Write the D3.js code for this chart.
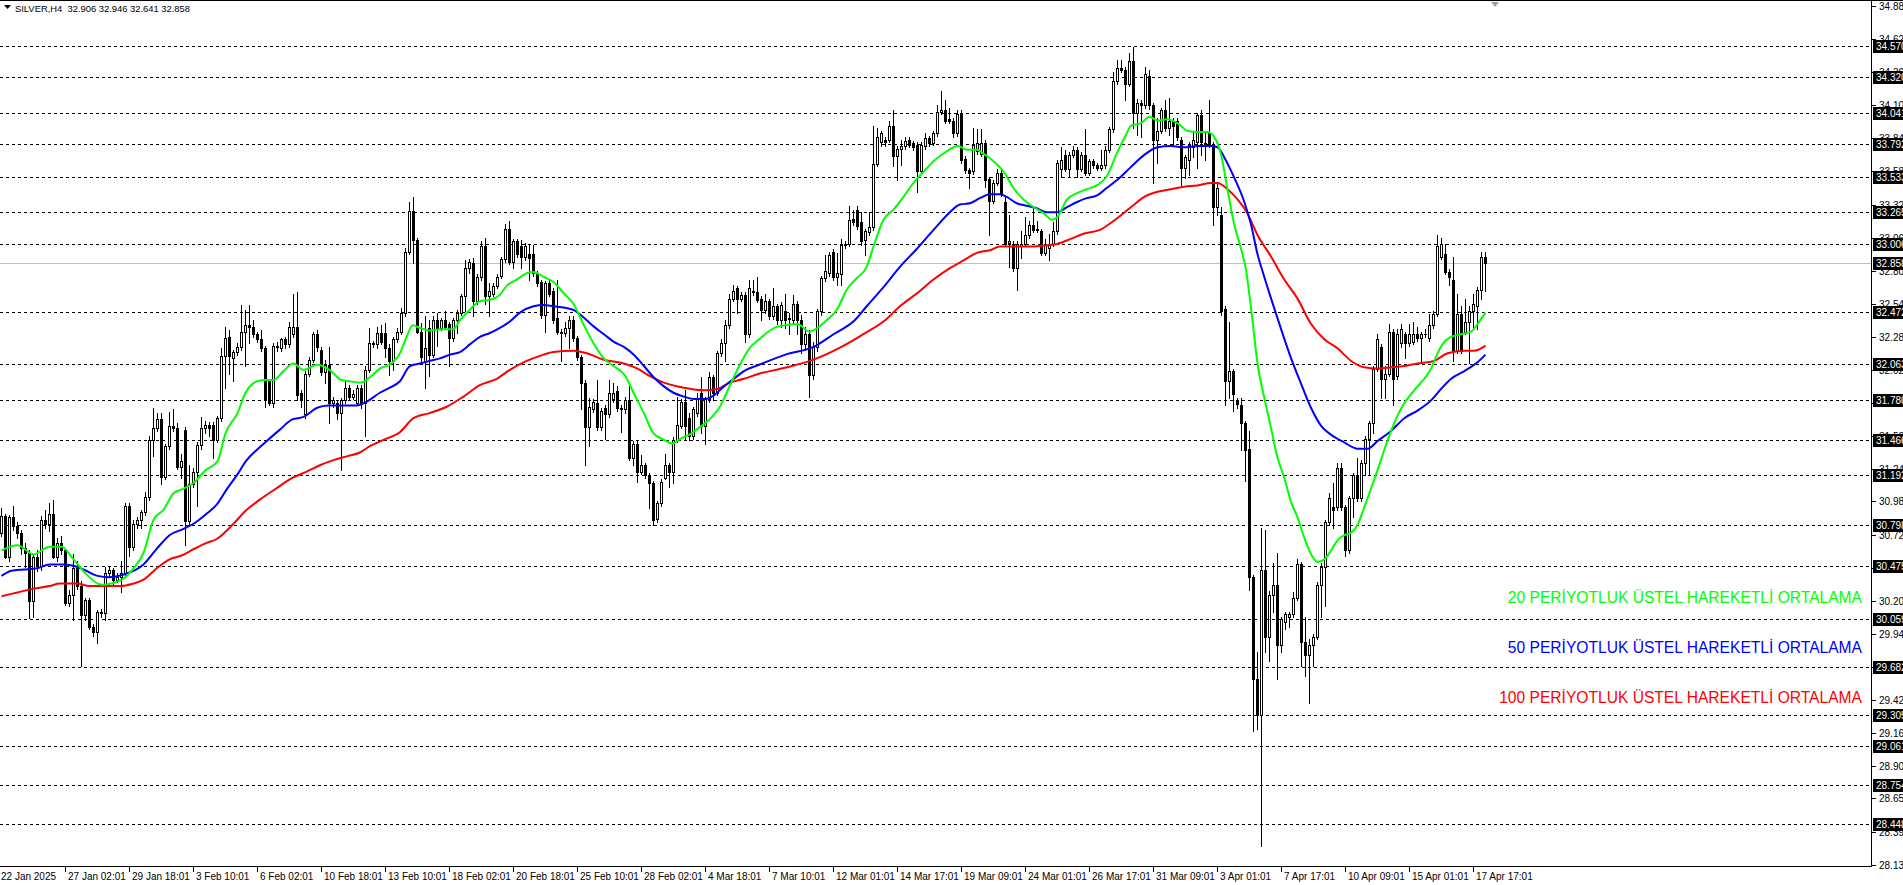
<!DOCTYPE html>
<html><head><meta charset="utf-8">
<script src="https://cdn.jsdelivr.net/npm/d3@7"></script>
<style>html,body{margin:0;padding:0;background:#fff;overflow:hidden}</style>
</head><body>
<svg id="chart" width="1903" height="885"></svg>
<script>
// ---------- DATA ----------
const opens = [30.74,30.87,30.55,30.86,30.79,30.74,30.62,30.58,30.20,30.55,30.48,30.84,30.81,30.89,30.55,30.66,30.60,30.19,30.25,30.46,30.32,30.09,30.21,30.00,29.96,30.12,30.11,30.42,30.45,30.37,30.39,30.42,30.95,30.63,30.81,30.84,30.90,31.02,31.47,31.56,31.63,31.18,31.42,31.58,31.56,31.26,31.55,30.83,31.12,31.22,31.43,31.56,31.59,31.59,31.47,31.64,32.13,32.28,32.11,32.16,32.20,32.32,32.37,32.36,32.30,32.26,32.19,31.94,31.76,32.21,32.19,32.26,32.22,32.30,32.36,31.84,31.67,31.99,32.10,32.30,32.18,32.00,32.06,31.76,31.76,31.68,31.78,31.88,31.81,31.76,31.88,31.76,32.02,32.23,32.22,32.31,32.31,32.19,32.09,32.26,32.32,32.47,32.95,33.27,33.04,32.32,32.09,32.35,32.14,32.41,32.35,32.41,32.38,32.27,32.41,32.47,32.60,32.82,32.86,32.56,32.75,32.99,32.60,32.62,32.68,32.76,32.89,33.13,32.87,33.03,32.99,32.91,32.93,32.93,32.78,32.71,32.45,32.70,32.64,32.43,32.32,32.31,32.35,32.41,32.27,32.12,31.92,31.57,31.71,31.76,31.57,31.72,31.67,31.79,31.85,31.72,31.71,31.78,31.33,31.44,31.22,31.27,31.19,31.13,30.85,30.97,31.17,31.27,31.22,31.47,31.58,31.77,31.64,31.50,31.68,31.84,31.58,31.79,31.96,31.84,32.15,32.23,32.37,32.58,32.66,32.58,32.61,32.30,32.64,32.63,32.58,32.49,32.56,32.44,32.52,32.41,32.48,32.42,32.41,32.54,32.41,32.22,32.30,31.98,32.20,32.48,32.74,32.78,32.95,32.75,32.77,33.00,33.01,33.21,33.28,33.18,33.04,33.10,33.14,33.64,33.81,33.83,33.83,33.94,33.70,33.76,33.78,33.83,33.80,33.79,33.58,33.78,33.84,33.80,33.88,34.05,34.06,33.99,33.98,33.88,34.03,33.68,33.59,33.58,33.74,33.72,33.80,33.52,33.35,33.49,33.57,33.34,33.02,33.01,32.82,32.99,33.01,33.08,33.16,33.13,33.11,32.94,32.98,33.01,33.11,33.60,33.71,33.60,33.71,33.75,33.60,33.71,33.57,33.66,33.63,33.61,33.63,33.75,33.91,34.29,34.39,34.38,34.27,34.45,34.04,34.12,34.10,34.33,34.10,33.83,33.90,34.06,33.92,33.98,33.98,33.83,33.61,33.67,33.77,33.81,34.02,33.80,33.88,33.79,33.30,33.24,32.50,31.93,32.01,31.78,31.74,31.60,31.40,30.39,29.59,29.31,30.45,29.92,30.25,30.33,29.86,30.04,30.08,30.10,30.23,30.49,29.88,29.78,29.86,29.92,30.33,30.47,30.82,30.94,30.94,31.25,30.94,30.60,31.01,31.19,31.01,31.29,31.48,31.60,32.03,32.20,31.95,31.99,32.32,31.97,32.23,32.30,32.23,32.24,32.30,32.27,32.30,32.27,32.37,32.46,32.91,32.93,32.79,32.73,32.17,32.46,32.32,32.40,32.48,32.52,32.65,32.906];
const highs = [30.93,30.89,30.88,30.95,30.82,30.76,30.66,30.60,30.57,30.60,30.87,30.92,30.97,31.00,30.70,30.71,30.61,30.29,30.57,30.52,30.36,30.23,30.23,30.02,30.13,30.14,30.47,30.48,30.46,30.42,30.52,30.97,30.97,30.84,30.86,30.92,31.06,31.50,31.72,31.68,31.68,31.44,31.69,31.71,31.60,31.36,31.57,31.27,31.25,31.45,31.65,31.62,31.61,31.61,31.66,32.19,32.36,32.33,32.18,32.23,32.53,32.49,32.53,32.41,32.32,32.33,32.21,31.95,32.23,32.24,32.27,32.28,32.40,32.62,32.63,31.86,32.01,32.12,32.32,32.33,32.20,32.10,32.20,31.81,31.78,31.80,31.93,31.90,31.86,31.90,31.90,32.05,32.35,32.25,32.36,32.37,32.39,32.22,32.28,32.35,32.51,32.98,33.34,33.38,33.06,32.39,32.44,32.41,32.44,32.47,32.43,32.48,32.40,32.43,32.49,32.62,32.88,32.89,32.90,32.77,33.03,33.06,32.70,32.70,32.77,32.91,33.17,33.19,33.05,33.05,33.04,33.02,33.00,33.00,32.80,32.73,32.72,32.73,32.66,32.73,32.34,32.40,32.44,32.44,32.29,32.14,31.94,31.80,31.79,31.94,31.72,31.74,31.94,31.92,31.89,31.74,31.81,31.89,31.46,31.46,31.35,31.29,31.21,31.15,30.99,31.16,31.36,31.29,31.49,31.81,31.79,31.86,31.68,31.73,31.84,31.96,31.81,32.00,31.98,32.17,32.26,32.41,32.62,32.69,32.68,32.63,32.63,32.73,32.73,32.75,32.60,32.62,32.58,32.66,32.54,32.55,32.62,32.47,32.61,32.56,32.45,32.36,32.33,32.24,32.50,32.76,32.92,32.95,32.97,32.94,33.05,33.03,33.31,33.28,33.31,33.26,33.13,33.26,33.94,33.92,33.90,33.85,33.98,34.06,33.78,33.83,33.85,33.85,33.82,33.81,33.81,33.88,33.86,33.90,34.10,34.21,34.14,34.08,34.00,34.06,34.06,33.70,33.61,33.92,33.91,33.91,33.83,33.54,33.51,33.60,33.59,33.38,33.24,33.03,33.03,33.11,33.22,33.19,33.30,33.19,33.13,33.05,33.09,33.18,33.67,33.77,33.75,33.73,33.78,33.77,33.73,33.91,33.68,33.68,33.65,33.75,33.78,33.93,34.36,34.46,34.46,34.40,34.51,34.56,34.15,34.14,34.40,34.38,34.12,34.00,34.08,34.14,34.16,34.00,34.00,33.85,33.71,33.81,33.90,34.04,34.06,33.89,34.14,33.81,33.50,33.30,32.52,32.40,32.03,31.80,31.80,31.62,31.54,30.41,29.80,30.78,30.76,30.28,30.50,30.58,30.08,30.12,30.12,30.27,30.53,30.51,30.08,29.90,29.94,30.35,30.50,30.84,31.05,31.13,31.29,31.29,30.96,31.03,31.21,31.33,31.31,31.50,31.62,32.05,32.30,32.22,32.05,32.38,32.34,32.34,32.38,32.32,32.38,32.40,32.36,32.32,32.34,32.46,32.48,33.08,33.06,33.01,32.81,32.91,32.62,32.52,32.58,32.52,32.62,32.67,32.95,32.946];
const lows = [30.71,30.54,30.52,30.76,30.70,30.57,30.47,30.07,30.08,30.44,30.45,30.78,30.75,30.54,30.52,30.57,30.17,30.16,30.05,30.30,29.69,30.05,29.98,29.93,29.87,30.08,30.05,30.39,30.34,30.35,30.27,30.40,30.56,30.60,30.78,30.78,30.88,31.00,31.34,31.54,31.12,31.16,31.40,31.54,31.24,31.17,30.64,30.80,31.10,30.95,31.40,31.52,31.50,31.33,31.45,31.62,31.88,31.99,31.93,32.14,32.18,32.05,32.23,32.28,32.24,32.17,31.73,31.74,31.73,32.17,32.17,32.19,32.20,32.28,31.78,31.73,31.64,31.97,32.08,32.17,31.98,31.92,31.60,31.73,31.63,31.23,31.76,31.78,31.79,31.74,31.72,31.50,32.00,32.20,32.19,32.22,32.12,31.98,32.02,32.24,32.30,32.44,32.93,32.86,32.31,32.07,31.88,31.97,32.12,32.21,32.33,32.34,32.05,32.25,32.31,32.45,32.48,32.78,32.44,32.54,32.73,32.54,32.44,32.60,32.66,32.74,32.87,32.85,32.82,32.91,32.82,32.88,32.73,32.76,32.68,32.43,32.32,32.60,32.39,32.30,32.09,32.29,32.19,32.25,32.10,31.71,31.27,31.42,31.69,31.55,31.55,31.48,31.65,31.77,31.70,31.53,31.68,31.31,31.27,31.14,31.20,31.17,30.93,30.80,30.82,30.95,31.16,31.10,31.13,31.45,31.56,31.47,31.47,31.48,31.66,31.52,31.44,31.77,31.78,31.82,32.13,32.09,32.35,32.56,32.47,32.56,32.24,32.28,32.61,32.55,32.41,32.47,32.42,32.42,32.38,32.36,32.35,32.30,32.38,32.30,32.15,32.18,31.81,31.95,32.17,32.45,32.72,32.76,32.73,32.69,32.69,32.98,32.99,33.16,33.13,33.00,32.92,33.08,33.12,33.62,33.78,33.78,33.81,33.62,33.51,33.63,33.76,33.77,33.75,33.42,33.56,33.76,33.78,33.79,33.86,34.03,33.96,33.96,33.85,33.86,33.65,33.57,33.45,33.56,33.72,33.70,33.46,33.08,33.33,33.47,33.39,32.99,32.83,32.80,32.65,32.90,32.99,33.06,33.10,33.10,32.92,32.92,32.88,32.99,33.09,33.54,33.58,33.54,33.69,33.54,33.58,33.55,33.55,33.61,33.59,33.59,33.61,33.73,33.89,34.27,34.36,34.14,34.25,33.92,33.87,33.85,34.08,34.07,33.49,33.65,33.88,33.90,33.87,33.79,33.83,33.47,33.53,33.55,33.69,33.61,33.71,33.67,33.77,33.16,33.24,32.45,31.74,31.80,31.70,31.72,31.39,31.15,30.29,29.18,29.20,28.28,29.80,29.73,30.12,29.59,29.80,29.98,30.00,30.08,30.21,29.69,29.61,29.40,29.69,29.90,30.08,30.16,30.80,30.78,30.92,30.92,30.56,30.58,30.86,30.99,30.99,31.19,31.19,31.52,32.01,31.80,31.80,31.97,31.74,31.95,32.20,32.11,32.21,32.22,32.25,32.09,32.28,32.25,32.35,32.44,32.89,32.77,32.69,32.09,32.15,32.15,32.30,32.07,32.34,32.34,32.58,32.641];
const closes = [30.87,30.55,30.86,30.79,30.74,30.62,30.58,30.20,30.55,30.48,30.84,30.81,30.89,30.55,30.66,30.60,30.19,30.25,30.46,30.32,30.09,30.21,30.00,29.96,30.12,30.11,30.42,30.45,30.37,30.39,30.42,30.95,30.63,30.81,30.84,30.90,31.02,31.47,31.56,31.63,31.18,31.42,31.58,31.56,31.26,31.30,30.83,31.12,31.22,31.43,31.56,31.59,31.56,31.47,31.64,32.13,32.27,32.13,32.16,32.20,32.32,32.37,32.36,32.30,32.26,32.19,31.78,31.76,32.21,32.20,32.26,32.22,32.36,32.36,31.82,31.78,31.99,32.10,32.30,32.20,32.00,32.06,31.76,31.78,31.68,31.78,31.88,31.81,31.83,31.88,31.76,32.02,32.23,32.22,32.31,32.24,32.19,32.09,32.26,32.32,32.47,32.95,33.27,33.04,32.32,32.12,32.19,32.14,32.41,32.35,32.41,32.36,32.27,32.41,32.47,32.60,32.82,32.87,32.56,32.75,32.99,32.60,32.64,32.68,32.75,32.89,33.13,32.87,33.03,32.93,32.91,32.99,32.90,32.78,32.70,32.45,32.70,32.62,32.41,32.32,32.31,32.35,32.41,32.27,32.12,31.92,31.57,31.73,31.77,31.57,31.70,31.67,31.84,31.84,31.72,31.71,31.78,31.33,31.44,31.22,31.27,31.19,31.13,30.84,30.97,31.14,31.27,31.22,31.47,31.59,31.77,31.58,31.50,31.71,31.80,31.58,31.79,31.96,31.84,32.15,32.23,32.37,32.58,32.64,32.58,32.61,32.30,32.66,32.63,32.57,32.49,32.56,32.44,32.52,32.41,32.53,32.41,32.43,32.54,32.41,32.22,32.30,31.98,32.20,32.48,32.74,32.80,32.92,32.75,32.78,33.00,33.01,33.20,33.18,33.15,33.03,33.11,33.14,33.64,33.85,33.88,33.81,33.94,33.70,33.76,33.78,33.82,33.79,33.77,33.58,33.79,33.84,33.80,33.88,34.05,34.06,33.98,33.98,33.88,34.03,33.67,33.59,33.57,33.79,33.80,33.80,33.51,33.35,33.49,33.57,33.41,33.01,33.03,32.82,33.01,33.01,33.08,33.16,33.12,33.12,32.94,33.00,33.01,33.11,33.65,33.67,33.60,33.71,33.75,33.60,33.71,33.57,33.66,33.63,33.61,33.63,33.75,33.91,34.29,34.39,34.38,34.27,34.45,34.04,34.12,34.10,34.35,34.10,33.83,33.90,34.06,33.92,33.98,33.94,33.85,33.61,33.69,33.79,33.83,34.02,33.81,33.79,33.79,33.30,33.45,32.48,31.93,32.01,31.83,31.75,31.60,31.39,30.39,29.59,29.31,30.45,29.92,30.25,30.33,29.86,30.06,30.10,30.10,30.23,30.49,29.88,29.78,29.86,29.92,30.33,30.47,30.82,31.01,30.92,31.25,30.94,30.60,31.01,31.19,31.01,31.29,31.48,31.60,32.03,32.26,31.95,31.99,32.32,31.95,32.30,32.34,32.23,32.30,32.30,32.27,32.30,32.30,32.37,32.46,32.99,33.01,32.79,32.75,32.17,32.46,32.17,32.40,32.48,32.54,32.65,32.91,32.858];

// moving averages, [bar index, value]
const ema20 = [[0,30.60],[4,30.64],[8,30.57],[12,30.63],[15,30.63],[18,30.53],[21,30.42],[25,30.33],[30,30.37],[33,30.46],[35.5,30.58],[38,30.84],[40.5,30.92],[43,31.05],[45,31.08],[48,31.13],[51,31.23],[54,31.30],[56,31.52],[59,31.68],[61,31.84],[64,31.93],[66,31.94],[68,31.94],[70.5,32.01],[73,32.07],[75.5,32.02],[79,32.06],[82,32.02],[85,31.94],[87,31.93],[90,31.92],[92,31.96],[94.6,32.03],[97,32.06],[99.6,32.15],[101.3,32.28],[102.8,32.37],[104.6,32.35],[107,32.33],[110,32.34],[113,32.34],[114.6,32.41],[117,32.49],[119.6,32.56],[122,32.57],[124.6,32.61],[126.3,32.68],[128.8,32.73],[131.3,32.78],[133,32.79],[135.6,32.75],[138,32.71],[140.6,32.62],[143,32.54],[145.6,32.37],[148,32.23],[150.6,32.11],[153,32.05],[156,31.97],[158,31.84],[160.6,31.68],[163,31.52],[165.6,31.47],[167.7,31.44],[169.8,31.48],[172,31.51],[174.6,31.57],[177,31.63],[179.6,31.73],[182,31.89],[184.6,32.06],[187,32.19],[189.4,32.26],[194,32.36],[199,32.38],[202,32.32],[206.3,32.41],[208.8,32.49],[211.3,32.65],[213.8,32.74],[216.3,32.83],[218,32.99],[220.5,33.20],[223,33.28],[225.5,33.38],[228,33.49],[230.6,33.58],[233,33.66],[235.5,33.72],[238,33.77],[239.2,33.78],[241.3,33.75],[243.8,33.75],[245.5,33.72],[248,33.66],[250.5,33.58],[253,33.45],[255.5,33.36],[258,33.30],[260.6,33.25],[262.6,33.20],[263.9,33.22],[266.4,33.36],[268.9,33.41],[271.3,33.44],[273.8,33.47],[276.3,33.54],[278.8,33.72],[281,33.86],[282.4,33.94],[284.9,33.96],[287,34.01],[289,33.98],[291.5,33.99],[294,33.96],[296.5,33.90],[299,33.89],[301.5,33.89],[303.2,33.85],[304.9,33.71],[306.5,33.44],[308.2,33.16],[309.9,32.97],[311.1,32.81],[312.4,32.50],[314,32.07],[315.7,31.80],[317.4,31.56],[319,31.33],[320.7,31.17],[322.4,30.98],[324,30.86],[325.7,30.70],[327.4,30.57],[329,30.51],[330.7,30.53],[332.4,30.60],[334,30.68],[335.7,30.72],[337.4,30.74],[339,30.80],[340.7,30.94],[342.4,31.09],[344,31.23],[345.7,31.39],[347.4,31.54],[349,31.66],[350.7,31.76],[352.4,31.83],[354,31.89],[355.7,31.95],[357.4,32.03],[359,32.15],[360.7,32.24],[362.4,32.28],[364.9,32.30],[367.4,32.32],[369,32.38],[371,32.47]];
const ema50 = [[0,30.40],[2.5,30.44],[5.5,30.45],[9,30.46],[12,30.49],[15,30.49],[18,30.48],[20.5,30.45],[24,30.40],[27,30.39],[30.5,30.41],[35.5,30.49],[39,30.62],[42,30.72],[45.5,30.77],[48,30.81],[51.3,30.89],[53.8,30.96],[56.3,31.08],[58.8,31.19],[61.3,31.31],[63.8,31.39],[66.3,31.46],[69.6,31.55],[72.7,31.63],[75.5,31.65],[78.8,31.72],[81.7,31.74],[85.5,31.74],[88.8,31.74],[91.3,31.77],[94.6,31.84],[97.1,31.88],[99.6,31.93],[102.1,32.05],[104.6,32.07],[107,32.09],[109.6,32.11],[112.1,32.14],[114.6,32.16],[117.1,32.22],[119.6,32.28],[122.1,32.31],[124.6,32.35],[127.1,32.40],[129.6,32.47],[133,32.52],[135.6,32.53],[138,32.52],[140.6,32.51],[143.1,32.49],[145.6,32.43],[148.1,32.36],[150.6,32.30],[153.1,32.24],[155.6,32.20],[158,32.14],[160.6,32.05],[163.1,31.96],[165.6,31.89],[168,31.84],[170.6,31.81],[173.1,31.79],[175.6,31.79],[178.1,31.82],[180.6,31.89],[183.1,31.95],[185.6,32.01],[189.4,32.06],[196,32.14],[203,32.20],[208,32.30],[213.3,32.41],[216.3,32.52],[220.5,32.67],[224.6,32.83],[228.8,32.97],[233,33.12],[237.1,33.26],[239.6,33.32],[242.1,33.33],[244.6,33.37],[247.1,33.40],[249.6,33.40],[251.3,33.38],[253.8,33.33],[256.3,33.31],[258.8,33.29],[261.3,33.26],[263.9,33.26],[266.4,33.30],[268.9,33.34],[271.3,33.37],[273.8,33.39],[276.3,33.45],[278.8,33.51],[282.2,33.61],[285.7,33.71],[289,33.77],[292.4,33.78],[295.7,33.77],[299,33.78],[302.4,33.78],[304,33.77],[305.7,33.69],[308.2,33.53],[310.7,33.34],[312.4,33.16],[314,32.93],[315.7,32.75],[317.4,32.58],[319.9,32.34],[322.4,32.11],[324.9,31.91],[327.4,31.72],[329.9,31.58],[332.4,31.51],[335.7,31.45],[339,31.40],[341.6,31.40],[344,31.46],[347.4,31.54],[350.7,31.64],[354,31.70],[357.4,31.78],[359.9,31.87],[362.4,31.95],[365.7,32.01],[369,32.08],[371,32.14]];
const ema100 = [[0,30.24],[4,30.27],[8,30.30],[12,30.32],[14.6,30.34],[18.8,30.34],[22,30.32],[26.3,30.32],[29.6,30.32],[33,30.34],[35.5,30.37],[38.8,30.46],[42,30.53],[45,30.56],[48,30.61],[51.3,30.66],[53.8,30.69],[58,30.81],[61.3,30.92],[64.6,31.00],[68.8,31.09],[72.7,31.17],[76.3,31.22],[79.6,31.27],[83,31.31],[86.3,31.34],[89.6,31.37],[92.1,31.42],[95.5,31.47],[99.6,31.53],[103,31.64],[107,31.68],[111.3,31.73],[115.5,31.81],[119.6,31.90],[123.8,31.95],[127.1,32.02],[131.3,32.09],[134.6,32.13],[138,32.16],[143.1,32.17],[146.3,32.15],[150.6,32.10],[155.6,32.07],[159,32.03],[162.1,31.97],[165.6,31.92],[170.6,31.88],[175.6,31.86],[179,31.87],[182.1,31.92],[185.6,31.95],[189.4,31.99],[195,32.03],[203,32.10],[210,32.20],[216,32.31],[220.9,32.41],[224.6,32.52],[228.8,32.62],[233,32.73],[237.1,32.82],[240.5,32.88],[243.8,32.94],[247.1,32.96],[249.6,32.99],[253.8,32.99],[258,32.99],[261.3,33.00],[263.9,33.01],[267.3,33.05],[270.5,33.09],[274.6,33.12],[278,33.19],[282.4,33.30],[285.7,33.38],[289,33.42],[292.4,33.44],[295.7,33.46],[299,33.47],[302.4,33.49],[304,33.49],[306.5,33.44],[309,33.36],[311.5,33.25],[314,33.08],[317.4,32.91],[320.7,32.73],[324,32.58],[327.4,32.38],[330.7,32.26],[334,32.19],[337.4,32.09],[340.7,32.04],[344,32.03],[347.4,32.04],[350.7,32.05],[354,32.07],[358.1,32.09],[361.5,32.15],[365.7,32.17],[368.2,32.17],[371,32.21]];

const priceTicks = [34.880,34.620,34.360,34.100,33.840,33.580,33.320,33.060,32.800,32.540,32.280,32.020,31.760,31.500,31.240,30.985,30.725,30.465,30.205,29.945,29.685,29.425,29.165,28.905,28.650,28.390,28.130];
const levelLines = [34.570,34.320,34.041,33.792,33.533,33.265,33.006,32.472,32.063,31.780,31.466,31.192,30.798,30.475,30.059,29.682,29.305,29.061,28.754,28.448];
const bidPrice = 32.858;
const dateTickBars = [0,16,32,48,64,80,96,112,128,144,160,176,192,208,224,240,256,272,288,304,320,336,352,368];
const dateLabels = ["22 Jan 2025","27 Jan 02:01","29 Jan 18:01","3 Feb 10:01","6 Feb 02:01","10 Feb 18:01","13 Feb 10:01","18 Feb 02:01","20 Feb 18:01","25 Feb 10:01","28 Feb 02:01","4 Mar 18:01","7 Mar 10:01","12 Mar 01:01","14 Mar 17:01","19 Mar 09:01","24 Mar 01:01","26 Mar 17:01","31 Mar 09:01","3 Apr 01:01","7 Apr 17:01","10 Apr 09:01","15 Apr 01:01","17 Apr 17:01"];
const titleText = "SILVER,H4  32.906 32.946 32.641 32.858";
const legendTexts = ["20 PERİYOTLUK ÜSTEL HAREKETLİ ORTALAMA","50 PERİYOTLUK ÜSTEL HAREKETLİ ORTALAMA","100 PERİYOTLUK ÜSTEL HAREKETLİ ORTALAMA"];
const maColors = ["#00FF00","#0000FF","#FF0000"];

// ---------- DRAWING ----------
const W = 1903, H = 885, AX = 1871, BY = 866;
const N = opens.length;
const FONT = "'Liberation Sans', Arial, sans-serif";
const svg = d3.select("#chart");
svg.append("rect").attr("width",W).attr("height",H).attr("fill","#fff");

const x = d3.scaleLinear().domain([0, N]).range([0, 4 * N]);
const y = d3.scaleLinear().domain([28.119, 34.928]).range([BY, 0]);
const py = v => Math.round(y(v));

// level (dashed) lines
svg.append("g").selectAll("line").data(levelLines).join("line")
  .attr("x1",0).attr("x2",AX).attr("y1",d=>py(d)+0.5).attr("y2",d=>py(d)+0.5)
  .attr("stroke","#000").attr("stroke-width",1).attr("stroke-dasharray","3,3");
// bid line
svg.append("line").attr("x1",0).attr("x2",AX).attr("y1",py(bidPrice)+0.5).attr("y2",py(bidPrice)+0.5)
  .attr("stroke","#C0C0C0").attr("stroke-width",1);

// candles
const idx = d3.range(N);
const cg = svg.append("g");
cg.selectAll("line.wick").data(idx).join("line").attr("class","wick")
  .attr("x1",i=>x(i)+1.5).attr("x2",i=>x(i)+1.5)
  .attr("y1",i=>py(highs[i])).attr("y2",i=>py(lows[i])+1)
  .attr("stroke","#000").attr("stroke-width",1);
const bodyTop = i => py(Math.max(opens[i],closes[i]));
const bodyBot = i => py(Math.min(opens[i],closes[i]));
const dojis = idx.filter(i => bodyBot(i) - bodyTop(i) < 1);
const bulls = idx.filter(i => bodyBot(i) - bodyTop(i) >= 1 && closes[i] >= opens[i]);
const bears = idx.filter(i => bodyBot(i) - bodyTop(i) >= 1 && closes[i] < opens[i]);
cg.selectAll("line.doji").data(dojis).join("line").attr("class","doji")
  .attr("x1",i=>x(i)).attr("x2",i=>x(i)+3)
  .attr("y1",i=>bodyTop(i)+0.5).attr("y2",i=>bodyTop(i)+0.5)
  .attr("stroke","#000").attr("stroke-width",1);
cg.selectAll("rect.bull").data(bulls).join("rect").attr("class","bull")
  .attr("x",i=>x(i)+0.5).attr("width",2)
  .attr("y",i=>bodyTop(i)+0.5).attr("height",i=>bodyBot(i)-bodyTop(i))
  .attr("fill","#fff").attr("stroke","#000").attr("stroke-width",1);
cg.selectAll("rect.bear").data(bears).join("rect").attr("class","bear")
  .attr("x",i=>x(i)).attr("width",3)
  .attr("y",i=>bodyTop(i)).attr("height",i=>bodyBot(i)-bodyTop(i)+1)
  .attr("fill","#000");

// moving averages
const line = d3.line().x(d=>x(d[0])+1.5).y(d=>y(d[1])).curve(d3.curveMonotoneX);
[ema100, ema50, ema20].forEach((s,k) => {
  svg.append("path").datum(s).attr("d",line).attr("fill","none")
    .attr("stroke",[maColors[2],maColors[1],maColors[0]][k]).attr("stroke-width",2)
    .attr("stroke-linejoin","round");
});

// legend texts
const legendY = [602.5, 653, 702.5];
svg.append("g").selectAll("text").data(legendTexts).join("text")
  .attr("x",1862).attr("y",(d,i)=>legendY[i]).attr("text-anchor","end")
  .attr("font-family",FONT).attr("font-size","15.6px")
  .attr("fill",(d,i)=>maColors[i]).text(d=>d);

// right price axis
svg.append("line").attr("x1",AX+0.5).attr("x2",AX+0.5).attr("y1",0).attr("y2",BY)
  .attr("stroke","#000").attr("stroke-width",1);
const ag = svg.append("g");
ag.selectAll("line").data(priceTicks).join("line")
  .attr("x1",AX+1).attr("x2",AX+5).attr("y1",d=>py(d)+0.5).attr("y2",d=>py(d)+0.5)
  .attr("stroke","#000");
ag.selectAll("text").data(priceTicks).join("text")
  .attr("x",AX+8).attr("y",d=>py(d)+4)
  .attr("font-family",FONT).attr("font-size","10px").attr("fill","#000")
  .text(d=>d.toFixed(3));
// price boxes for horizontal lines and bid
const boxes = levelLines.concat([bidPrice]);
const bg = svg.append("g");
bg.selectAll("rect").data(boxes).join("rect")
  .attr("x",AX+2).attr("y",d=>py(d)-6).attr("width",W-AX).attr("height",13).attr("fill","#000");
bg.selectAll("text").data(boxes).join("text")
  .attr("x",AX+5).attr("y",d=>py(d)+4)
  .attr("font-family",FONT).attr("font-size","10px").attr("fill","#fff")
  .text(d=>d.toFixed(3));

// bottom time axis
svg.append("line").attr("x1",0).attr("x2",AX+1).attr("y1",BY+0.5).attr("y2",BY+0.5)
  .attr("stroke","#000").attr("stroke-width",1);
const tg = svg.append("g");
tg.selectAll("line").data(dateTickBars.slice(1)).join("line")
  .attr("x1",d=>x(d)+1.5).attr("x2",d=>x(d)+1.5).attr("y1",BY+1).attr("y2",BY+6)
  .attr("stroke","#000");
tg.selectAll("text").data(dateTickBars).join("text")
  .attr("x",(d,i)=> i===0 ? 1 : x(d)+4).attr("y",880)
  .attr("font-family",FONT).attr("font-size","10px").attr("fill","#000")
  .text((d,i)=>dateLabels[i]);

// top border, title, shift marker
svg.append("line").attr("x1",0).attr("x2",W).attr("y1",0.5).attr("y2",0.5).attr("stroke","#000");
svg.append("path").attr("d","M4,5 L11,5 L7.5,9 Z").attr("fill","#000");
svg.append("text").attr("x",15).attr("y",12).attr("font-family",FONT).attr("font-size","9.4px")
  .attr("fill","#000").attr("xml:space","preserve").style("white-space","pre").text(titleText);
svg.append("path").attr("d","M1491,2 L1499,2 L1495,7 Z").attr("fill","#A0A0A0");
</script>
</body></html>
